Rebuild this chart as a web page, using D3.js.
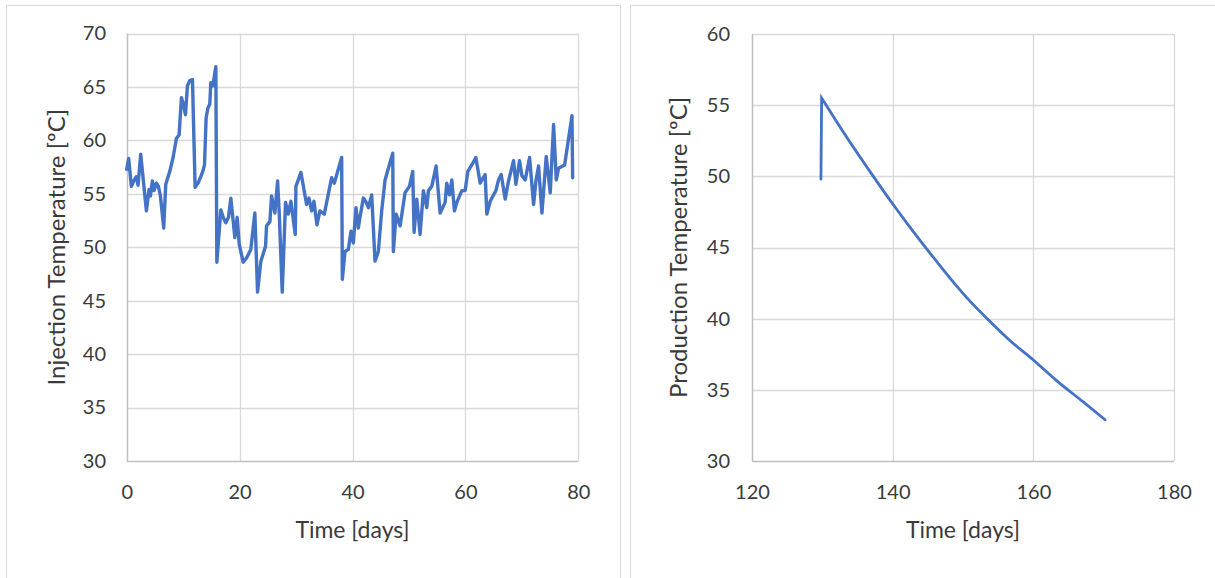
<!DOCTYPE html>
<html>
<head>
<meta charset="utf-8">
<script src="https://cdn.jsdelivr.net/npm/d3@7/dist/d3.min.js"></script>
<style>
  html, body { margin: 0; padding: 0; background: #ffffff; }
  svg { display: block; }
  text { font-family: Lato, "Open Sans", "Liberation Sans", sans-serif; fill: #3a3a3a; }
</style>
</head>
<body>
<svg id="chart" width="1215" height="578"></svg>
<script>
// Injection temperature record (time in days, temperature in ºC)
const injectionDays = [
  0, 0.35, 0.83, 1.24, 1.71, 2.01, 2.48, 3.49, 3.96, 4.2, 4.55, 4.85, 5.26, 5.62, 5.97,
  6.56, 6.92, 7.63, 8.22, 8.81, 9.28, 9.7, 9.99, 10.41, 10.76, 11.18, 11.65, 12.12, 12.65,
  13.42, 13.78, 14.07, 14.37, 14.72, 14.9, 15.26, 15.79, 15.97, 16.67, 17.09, 17.56, 18.03,
  18.45, 19.16, 19.57, 19.93, 20.63, 21.23, 21.99, 22.7, 23.18, 23.77, 24.6, 24.77, 25.37,
  25.66, 26.25, 26.73, 27.02, 27.55, 28.14, 28.62, 29.09, 29.86, 29.98, 30.86, 31.87, 32.28,
  32.76, 33.17, 33.7, 34.23, 35.0, 36.3, 36.78, 38.08, 38.2, 38.67, 39.26, 39.73, 40.15,
  40.62, 41.03, 41.33, 41.92, 42.34, 42.81, 43.4, 43.99, 44.58, 45.17, 45.77, 46.36, 47.13,
  47.24, 47.72, 48.43, 49.31, 50.08, 50.67, 50.91, 51.38, 51.97, 52.56, 53.16, 53.45, 54.04,
  54.81, 55.52, 56.41, 56.7, 57.18, 57.59, 58.06, 58.48, 59.37, 59.96, 60.43, 61.14, 61.85,
  62.62, 62.91, 63.5, 63.8, 64.39, 65.4, 65.87, 66.34, 67.05, 67.64, 68.53, 68.94, 69.59,
  70.01, 70.6, 71.37, 72.08, 72.49, 72.96, 73.56, 74.32, 75.03, 75.62, 76.1, 76.51, 77.58,
  78.88, 79.0
];
const injectionTemps = [
  57.3, 58.3, 55.7, 56.2, 56.6, 55.8, 58.7, 53.4, 55.4, 54.8, 56.2, 55.3, 56.0, 55.7, 54.8,
  51.8, 55.9, 57.1, 58.4, 60.2, 60.5, 64.0, 63.5, 62.4, 65.1, 65.6, 65.7, 55.6, 56.0,
  57.0, 57.7, 62.1, 63.0, 63.4, 65.4, 65.1, 66.9, 48.6, 53.5, 52.8, 52.3, 52.8,
  54.6, 50.9, 52.8, 50.3, 48.6, 49.0, 49.8, 53.2, 45.8, 48.7, 50.1, 52.0, 52.4,
  54.8, 53.2, 56.2, 53.2, 45.8, 54.2, 53.1, 54.3, 51.2, 55.7, 57.0, 54.0, 54.6,
  53.4, 54.3, 52.1, 53.4, 53.1, 56.5, 56.0, 58.4, 47.0, 49.6, 49.8, 51.5, 50.4,
  53.7, 51.8, 52.8, 54.6, 54.3, 53.7, 54.9, 48.7, 49.6, 53.4, 56.3, 57.4, 58.8,
  49.6, 53.1, 52.0, 55.1, 55.7, 57.1, 51.4, 54.5, 51.2, 55.3, 53.7, 55.3, 55.7,
  57.6, 53.2, 54.2, 56.0, 54.9, 56.3, 53.4, 54.2, 55.3, 55.3, 57.1, 57.7, 58.4,
  56.0, 56.3, 56.8, 53.1, 54.3, 55.3, 56.3, 56.8, 54.5, 56.2, 58.1, 55.9, 58.1,
  56.7, 56.3, 58.4, 54.0, 56.2, 57.6, 53.2, 58.5, 55.1, 61.5, 56.3, 57.4, 57.7,
  62.3, 56.5
];

// Production temperature record
const productionDays = [
  129.8, 129.9, 133.0, 137.25, 140.1, 142.5, 145.8, 148.15, 150.5, 153.85, 156.7, 160.0,
  163.3, 167.1, 170.2
];
const productionTemps = [
  49.8, 55.5, 53.1, 50.0, 48.0, 46.4, 44.3, 42.85, 41.5, 39.8, 38.45, 37.1,
  35.65, 34.15, 32.9
];

// Axis ticks
const injectionXTicks = [0, 20, 40, 60, 80];
const productionXTicks = [120, 140, 160, 180];
const injectionYTicks = [30, 35, 40, 45, 50, 55, 60, 65, 70];
const productionYTicks = [30, 35, 40, 45, 50, 55, 60];

const svg = d3.select("#chart");
const lineColor = "#4472C4";
const gridColor = "#d9d9d9";
const axisColor = "#bfbfbf";
const textColor = "#3a3a3a";
const fontStack = "Lato, 'Open Sans', sans-serif";

// Panel frames
function frame(x, y, w, h) {
  svg.append("rect")
    .attr("x", x + 0.5).attr("y", y + 0.5)
    .attr("width", w).attr("height", h)
    .attr("fill", "#ffffff")
    .attr("stroke", "#d9d9d9")
    .attr("stroke-width", 1);
}
frame(6, 5, 614, 600);
frame(630, 5, 600, 600);

function drawPanel(cfg) {
  const x = d3.scaleLinear().domain(cfg.xDomain).range([cfg.left, cfg.right]);
  const y = d3.scaleLinear().domain(cfg.yDomain).range([cfg.bottom, cfg.top]);
  const g = svg.append("g");

  // horizontal gridlines
  g.append("g").selectAll("line").data(cfg.yTicks.filter(t => t !== cfg.yDomain[0]))
    .join("line")
    .attr("x1", cfg.left).attr("x2", cfg.right)
    .attr("y1", d => Math.round(y(d)) + 0.5).attr("y2", d => Math.round(y(d)) + 0.5)
    .attr("stroke", gridColor).attr("stroke-width", 1.3);

  // vertical gridlines
  g.append("g").selectAll("line").data(cfg.xTicks.filter(t => t !== cfg.xDomain[0]))
    .join("line")
    .attr("y1", cfg.top).attr("y2", cfg.bottom)
    .attr("x1", d => Math.round(x(d)) + 0.5).attr("x2", d => Math.round(x(d)) + 0.5)
    .attr("stroke", gridColor).attr("stroke-width", 1.3);

  // axis lines
  g.append("line")
    .attr("x1", Math.round(cfg.left) + 0.5).attr("x2", Math.round(cfg.left) + 0.5)
    .attr("y1", cfg.top).attr("y2", cfg.bottom)
    .attr("stroke", axisColor).attr("stroke-width", 1.5);
  g.append("line")
    .attr("x1", cfg.left).attr("x2", cfg.right)
    .attr("y1", Math.round(cfg.bottom) + 0.5).attr("y2", Math.round(cfg.bottom) + 0.5)
    .attr("stroke", axisColor).attr("stroke-width", 1.5);

  // y tick labels
  const yAxis = d3.axisLeft(y).tickValues(cfg.yTicks).tickSize(0).tickPadding(0);
  const ya = g.append("g").attr("transform", `translate(${cfg.yLabelX},0)`).call(yAxis);
  ya.select(".domain").remove();
  ya.selectAll("text").attr("font-size", 20).attr("fill", textColor)
    .attr("font-family", fontStack);

  // x tick labels
  const xAxis = d3.axisBottom(x).tickValues(cfg.xTicks).tickSize(0).tickPadding(0);
  const xa = g.append("g").attr("transform", `translate(0,${cfg.xLabelY})`).call(xAxis);
  xa.select(".domain").remove();
  xa.selectAll("text").attr("font-size", 20).attr("fill", textColor)
    .attr("font-family", fontStack);

  // axis titles
  g.append("text")
    .attr("x", (cfg.left + cfg.right) / 2).attr("y", cfg.xTitleY)
    .attr("text-anchor", "middle").attr("dominant-baseline", "middle")
    .attr("font-size", 23)
    .text(cfg.xTitle);
  g.append("text")
    .attr("transform", `translate(${cfg.yTitleX},${(cfg.top + cfg.bottom) / 2}) rotate(-90)`)
    .attr("text-anchor", "middle").attr("dominant-baseline", "middle")
    .attr("font-size", 24)
    .text(cfg.yTitle);

  // series: an optional straight lead-in, then the (possibly smoothed) remainder
  const pts = cfg.xs.map((d, i) => [d, cfg.ys[i]]);
  const k = cfg.straightLead || 0;
  const straight = d3.line().x(d => x(d[0])).y(d => y(d[1]));
  const smooth = d3.line().curve(cfg.curve).x(d => x(d[0])).y(d => y(d[1]));
  let dAttr = smooth(pts.slice(k));
  if (k > 0) {
    dAttr = straight(pts.slice(0, k + 1)) + "L" + smooth(pts.slice(k)).slice(1);
  }
  g.append("path")
    .attr("fill", "none")
    .attr("stroke", lineColor)
    .attr("stroke-width", cfg.lineWidth)
    .attr("stroke-linejoin", cfg.join)
    .attr("stroke-linecap", "round")
    .attr("d", dAttr);
}

drawPanel({
  xDomain: [0, 80], yDomain: [30, 70],
  left: 126.7, right: 578.3, top: 33.5, bottom: 461,
  xTicks: injectionXTicks, yTicks: injectionYTicks,
  yLabelX: 106, xLabelY: 485,
  xTitle: "Time [days]", xTitleY: 532,
  yTitle: "Injection Temperature [ºC]", yTitleX: 59,
  xs: injectionDays, ys: injectionTemps, lineWidth: 3.4,
  curve: d3.curveLinear, join: "round"
});

drawPanel({
  xDomain: [120, 180], yDomain: [30, 60],
  left: 752, right: 1174, top: 34, bottom: 461,
  xTicks: productionXTicks, yTicks: productionYTicks,
  yLabelX: 730, xLabelY: 485,
  xTitle: "Time [days]", xTitleY: 532,
  yTitle: "Production Temperature [ºC]", yTitleX: 681,
  xs: productionDays, ys: productionTemps, lineWidth: 2.8,
  curve: d3.curveMonotoneX, straightLead: 1, join: "miter"
});
</script>
</body>
</html>
